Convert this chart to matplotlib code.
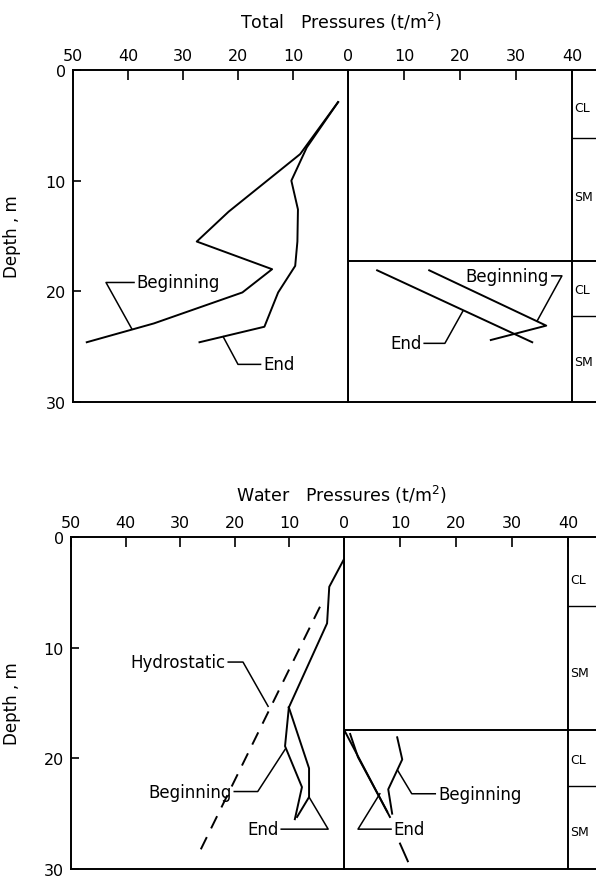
import matplotlib.pyplot as plt

# ---- data: pressure (t/m2) vs depth (m) ----
# total pressures, left half
tot_L_beg_p = [1.8, 8.7, 21.7, 27.5, 13.8, 19.2, 35.3, 47.5]
tot_L_beg_z = [2.9, 7.6, 12.8, 15.5, 18.0, 20.1, 22.9, 24.6]
tot_L_end_p = [1.8, 7.5, 10.3, 9.1, 9.2, 9.6, 12.7, 15.2, 27.0]
tot_L_end_z = [2.9, 7.0, 10.0, 12.6, 15.5, 17.7, 20.1, 23.2, 24.6]
# total pressures, right half
tot_R_beg_p = [14.5, 35.4, 25.5]
tot_R_beg_z = [18.1, 23.1, 24.4]
tot_R_end_p = [5.2, 32.9]
tot_R_end_z = [18.1, 24.6]

# water pressures, left half
wat_L_trunk_p = [0.0, 2.7, 3.1, 10.1]
wat_L_trunk_z = [2.0, 4.5, 7.8, 15.4]
wat_L_beg_p = [10.1, 10.8, 7.7, 9.0]
wat_L_beg_z = [15.4, 18.9, 22.6, 25.5]
wat_L_end_p = [10.1, 6.4, 6.4, 8.6]
wat_L_end_z = [15.4, 20.9, 23.5, 25.3]
hydro_p = [4.4, 26.9]
hydro_z = [6.3, 28.9]
# water pressures, right half
wat_R_beg_p = [9.5, 10.4, 7.9, 8.6]
wat_R_beg_z = [18.1, 20.1, 22.8, 25.0]
wat_R_end_p = [0.2, 8.2]
wat_R_end_z = [17.6, 25.3]
wat_R_b_p = [1.1, 2.5, 7.7]
wat_R_b_z = [17.8, 19.9, 24.8]
wat_R_low_p = [10.0, 11.4]
wat_R_low_z = [27.7, 29.3]

# soil column
soil_top_bounds = [6.1, 22.2]
soil_top_labels = [('CL', 3.4), ('SM', 11.4), ('CL', 19.8), ('SM', 26.3)]
soil_bot_bounds = [6.2, 22.5]
soil_bot_labels = [('CL', 3.8), ('SM', 12.2), ('CL', 20.1), ('SM', 26.6)]
split_top = 17.3
split_bot = 17.4

left_ticks = [50, 40, 30, 20, 10]
right_ticks = [0, 10, 20, 30, 40]
depth_ticks = [0, 10, 20, 30]

W, H = 596, 878
LW = 1.4
FS_TICK = 11.5
FS_ANN = 12
FS_TITLE = 12.5

plt.rcParams['font.family'] = 'DejaVu Sans'
fig = plt.figure(figsize=(W / 100, H / 100), dpi=100)


def px_axes(x0, x1, y0, y1):
    return fig.add_axes([x0 / W, 1 - y1 / H, (x1 - x0) / W, (y1 - y0) / H])


def make_panel(xl, x0, xr, y0, y1, title, ty, bounds, labels, split):
    axL = px_axes(xl, x0, y0, y1)
    axR = px_axes(x0, 620, y0, y1)
    scale = (xr - x0) / 40.0
    for ax in (axL, axR):
        ax.set_ylim(30, 0)
        ax.xaxis.tick_top()
        ax.tick_params(axis='both', direction='in', length=7, width=1.2,
                       labelsize=FS_TICK, pad=5)
        for s in ax.spines.values():
            s.set_linewidth(LW)
    axL.set_xlim(50, 0)
    axL.set_xticks(left_ticks)
    axL.set_yticks(depth_ticks)
    axL.tick_params(axis='y', length=6)
    axL.set_ylabel('Depth , m', fontsize=FS_ANN)
    axL.yaxis.set_label_coords((21 - xl) / (x0 - xl), 0.5)
    axL.spines['right'].set_visible(False)
    axR.set_xlim(0, (620 - x0) / scale)
    axR.set_xticks(right_ticks)
    axR.set_yticks([])
    axR.spines['right'].set_visible(False)
    axR.axvline(0, color='k', lw=LW)
    axR.axvline(40, color='k', lw=LW)
    axR.hlines(split, 0, 60, color='k', lw=LW)
    axR.hlines(bounds, 40, 60, color='k', lw=1.0)
    for lab, z in labels:
        axR.text(40.4, z, lab, fontsize=9, va='center', ha='left')
    fig.text(341 / W, 1 - ty / H, title, fontsize=FS_TITLE, ha='center',
             va='center')
    return axL, axR


def leader(ax, pts, text, ha):
    xs = [p[0] for p in pts]
    zs = [p[1] for p in pts]
    ax.plot(xs, zs, color='k', lw=1.1)
    off = 2 if ha == 'left' else -2
    ax.annotate(text, (xs[0], zs[0]), xytext=(off, 0),
                textcoords='offset points', fontsize=FS_ANN, ha=ha,
                va='center')


# ---- top panel ----
aL, aR = make_panel(73, 348, 572, 71, 403, 'Total   Pressures (t/m$^2$)', 22,
                    soil_top_bounds, soil_top_labels, split_top)
aL.plot(tot_L_beg_p, tot_L_beg_z, color='k', lw=LW)
aL.plot(tot_L_end_p, tot_L_end_z, color='k', lw=LW)
aR.plot(tot_R_beg_p, tot_R_beg_z, color='k', lw=LW)
aR.plot(tot_R_end_p, tot_R_end_z, color='k', lw=LW)
leader(aL, [(38.9, 19.2), (44.0, 19.2), (39.3, 23.4)], 'Beginning', 'left')
leader(aL, [(15.9, 26.6), (20.0, 26.6), (22.7, 24.1)], 'End', 'left')
leader(aR, [(36.4, 18.6), (38.2, 18.6), (33.75, 22.7)], 'Beginning', 'right')
leader(aR, [(13.6, 24.7), (17.3, 24.7), (20.5, 21.8)], 'End', 'right')

# ---- bottom panel ----
bL, bR = make_panel(71, 344, 568, 538, 870, 'Water   Pressures (t/m$^2$)', 495,
                    soil_bot_bounds, soil_bot_labels, split_bot)
bL.plot(wat_L_trunk_p, wat_L_trunk_z, color='k', lw=LW)
bL.plot(wat_L_beg_p, wat_L_beg_z, color='k', lw=LW)
bL.plot(wat_L_end_p, wat_L_end_z, color='k', lw=LW)
bL.plot(hydro_p, hydro_z, color='k', lw=LW, ls=(0, (7, 5)))
bR.plot(wat_R_beg_p, wat_R_beg_z, color='k', lw=LW)
bR.plot(wat_R_end_p, wat_R_end_z, color='k', lw=LW)
bR.plot(wat_R_b_p, wat_R_b_z, color='k', lw=LW)
bR.plot(wat_R_low_p, wat_R_low_z, color='k', lw=LW)
leader(bL, [(21.2, 11.3), (18.5, 11.3), (13.9, 15.3)], 'Hydrostatic', 'right')
leader(bL, [(20.1, 23.0), (15.8, 23.0), (10.8, 19.2)], 'Beginning', 'right')
leader(bL, [(11.5, 26.4), (2.9, 26.4), (6.4, 23.5)], 'End', 'right')
leader(bR, [(16.3, 23.2), (12.1, 23.2), (9.6, 21.1)], 'Beginning', 'left')
leader(bR, [(8.4, 26.4), (2.5, 26.4), (6.4, 23.2)], 'End', 'left')

fig.savefig('out.png', dpi=100)
